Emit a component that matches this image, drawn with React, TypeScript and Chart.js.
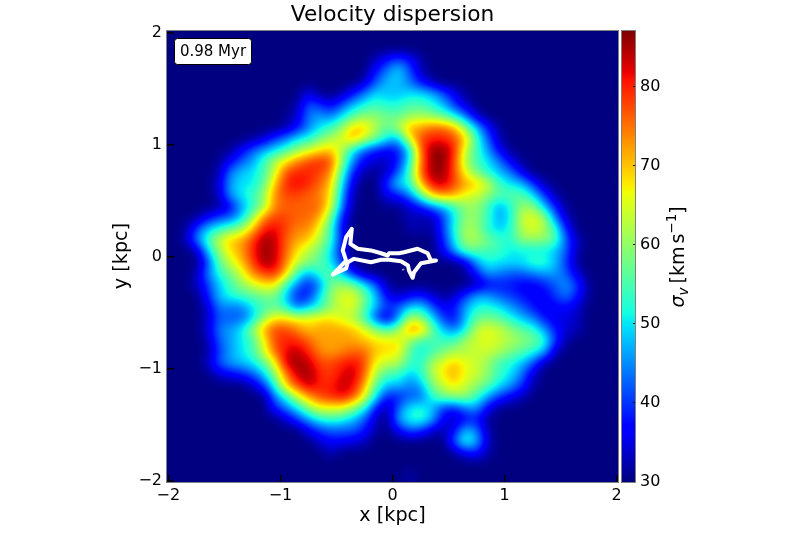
import React, { useEffect, useRef } from "react";
import { Chart, registerables } from "chart.js";

Chart.register(...registerables);

const FONT = "'DejaVu Sans'";
const titleText = "Velocity dispersion";
const xLabel = "x [kpc]";
const yLabel = "y [kpc]";
const timeLabel = "0.98 Myr";
const axisTicks = [-2, -1, 0, 1, 2];
const colorTicks = [30, 40, 50, 60, 70, 80];
const sigmaMin = 30;
const sigmaMax = 87;
const axisLimit = 2.012;
const gridSize = 40; // cells per side, spanning -2..2 kpc

// Velocity dispersion map: first column of each row, then its values. Anything else is at the floor (30).
const rowStart = [0, 0, 18, 18, 17, 12, 11, 10, 10, 7, 5, 4, 4, 4, 4, 4, 2, 1, 1, 2, 2, 2, 2, 2, 3, 3, 3, 3, 3, 3, 4, 7, 8, 9, 10, 12, 13, 14, 0, 21];
const rowValues: number[][] = [
  [],
  [],
  [33, 38, 42, 38, 32],
  [38, 44, 50, 42, 33],
  [34, 42, 48, 48, 44, 38, 33],
  [36, 31, 30, 32, 38, 44, 50, 48, 48, 50, 50, 48, 42, 36, 31],
  [32, 42, 40, 36, 42, 48, 52, 54, 52, 52, 55, 55, 52, 48, 40, 34],
  [31, 34, 44, 46, 44, 50, 56, 60, 60, 58, 57, 60, 62, 60, 57, 52, 44, 34],
  [32, 37, 44, 50, 54, 60, 70, 70, 62, 56, 62, 72, 72, 76, 76, 72, 60, 48, 38, 31],
  [31, 34, 40, 44, 50, 52, 58, 62, 66, 72, 64, 58, 50, 46, 66, 78, 80, 80, 78, 70, 54, 42, 33],
  [31, 36, 42, 46, 50, 54, 60, 64, 68, 70, 62, 50, 42, 38, 36, 38, 48, 76, 86, 87, 80, 64, 54, 46, 36, 31],
  [31, 36, 42, 46, 54, 62, 68, 74, 78, 80, 78, 60, 44, 36, 34, 33, 38, 50, 74, 86, 87, 78, 62, 54, 50, 44, 36, 31],
  [32, 44, 48, 50, 54, 64, 78, 80, 80, 78, 74, 54, 38, 32, 31, 33, 42, 54, 76, 86, 86, 78, 66, 58, 52, 48, 44, 36, 30],
  [34, 46, 50, 50, 56, 70, 80, 82, 80, 76, 70, 50, 34, 30, 30, 40, 50, 52, 70, 82, 84, 78, 72, 70, 64, 54, 50, 48, 40, 32],
  [33, 46, 50, 54, 60, 74, 78, 78, 76, 74, 68, 46, 32, 30, 30, 36, 38, 44, 56, 70, 74, 72, 66, 64, 60, 56, 56, 56, 50, 40, 32],
  [31, 36, 46, 52, 60, 74, 76, 76, 76, 76, 66, 44, 31, 30, 30, 31, 31, 34, 38, 44, 48, 54, 60, 60, 54, 46, 52, 60, 60, 48, 38, 31],
  [31, 36, 40, 42, 48, 60, 74, 78, 78, 76, 76, 72, 58, 38, 30, 30, 30, 30, 30, 33, 32, 32, 40, 50, 60, 60, 54, 46, 50, 64, 66, 62, 44, 33],
  [31, 40, 48, 52, 56, 60, 70, 80, 82, 78, 74, 74, 66, 54, 36, 30, 30, 30, 30, 30, 32, 33, 31, 40, 52, 62, 60, 52, 48, 52, 62, 66, 62, 54, 38],
  [32, 44, 54, 64, 70, 72, 78, 86, 84, 76, 72, 70, 62, 54, 38, 30, 30, 30, 30, 30, 30, 30, 30, 38, 50, 62, 62, 58, 54, 52, 60, 60, 60, 56, 42, 33],
  [32, 48, 60, 68, 72, 80, 86, 84, 76, 68, 62, 58, 50, 36, 30, 30, 30, 30, 30, 30, 30, 30, 36, 46, 56, 56, 54, 54, 50, 50, 50, 50, 48, 42, 32],
  [30, 40, 56, 64, 70, 78, 86, 84, 74, 64, 60, 56, 50, 40, 30, 30, 30, 30, 30, 30, 30, 30, 30, 30, 34, 46, 52, 50, 50, 50, 54, 54, 48, 40, 31],
  [32, 44, 52, 58, 64, 74, 78, 80, 70, 54, 46, 54, 56, 48, 38, 31, 30, 30, 30, 30, 30, 30, 30, 30, 31, 38, 46, 44, 42, 42, 44, 46, 46, 42, 34],
  [33, 40, 48, 54, 60, 64, 68, 68, 54, 44, 38, 44, 58, 60, 58, 50, 42, 32, 30, 30, 30, 30, 30, 30, 30, 32, 36, 38, 38, 36, 36, 38, 42, 46, 40, 31],
  [30, 38, 48, 52, 54, 56, 58, 58, 48, 38, 38, 50, 60, 66, 66, 58, 48, 36, 33, 36, 38, 34, 31, 33, 40, 46, 46, 42, 40, 38, 36, 36, 40, 44, 38, 31],
  [34, 44, 44, 44, 50, 54, 56, 52, 42, 48, 52, 60, 64, 66, 56, 48, 40, 42, 48, 50, 42, 36, 38, 46, 52, 52, 50, 46, 42, 38, 35, 36, 37, 34, 30],
  [33, 42, 42, 42, 48, 60, 68, 68, 66, 66, 68, 68, 64, 62, 54, 40, 33, 44, 62, 60, 50, 40, 36, 48, 56, 58, 56, 52, 48, 44, 38, 35, 35, 33, 30],
  [34, 44, 46, 50, 60, 72, 78, 78, 74, 70, 72, 72, 72, 70, 66, 60, 54, 60, 74, 74, 58, 48, 44, 50, 64, 66, 64, 60, 56, 54, 46, 38, 34, 33, 30],
  [32, 42, 46, 50, 54, 66, 78, 80, 80, 76, 72, 72, 72, 72, 70, 68, 68, 68, 60, 54, 54, 54, 54, 62, 64, 66, 64, 62, 60, 58, 54, 40, 32],
  [31, 40, 46, 50, 54, 64, 76, 82, 84, 80, 74, 72, 74, 76, 76, 70, 68, 68, 56, 50, 54, 58, 62, 62, 64, 64, 62, 58, 56, 52, 48, 33],
  [33, 42, 46, 48, 50, 56, 66, 84, 86, 84, 78, 78, 80, 82, 78, 66, 64, 62, 54, 52, 62, 66, 70, 66, 64, 60, 54, 52, 48, 42, 32],
  [34, 36, 38, 42, 48, 60, 74, 84, 86, 80, 78, 82, 84, 76, 62, 54, 54, 48, 52, 62, 68, 72, 66, 64, 60, 54, 50, 44, 34],
  [33, 40, 52, 70, 78, 84, 80, 80, 84, 82, 72, 56, 48, 48, 44, 46, 58, 64, 68, 64, 60, 56, 50, 46, 40, 32],
  [30, 44, 52, 64, 72, 78, 80, 82, 78, 66, 50, 38, 38, 42, 42, 52, 58, 60, 60, 54, 46, 40, 36, 33],
  [38, 44, 50, 60, 66, 66, 66, 60, 52, 38, 31, 42, 50, 52, 48, 40, 38, 44, 46, 36, 31],
  [34, 40, 46, 52, 54, 52, 48, 42, 33, 30, 46, 52, 54, 48, 36, 33, 36, 38, 31],
  [36, 40, 42, 42, 42, 38, 32, 30, 36, 42, 40, 34, 32, 36, 48, 44, 32],
  [34, 37, 36, 35, 33, 30, 30, 30, 30, 30, 30, 30, 42, 54, 48, 33],
  [33, 30, 30, 30, 30, 30, 30, 30, 30, 30, 30, 31, 36, 38, 32],
  [],
  [32],
];

// Central white track, in kpc
const trackX = [-0.533, -0.414, -0.444, -0.414, -0.363, -0.376, -0.31, -0.192, -0.102, -0.043, -0.031, 0.058, 0.102, 0.224, 0.314, 0.343, 0.388, 0.254, 0.192, 0.18, 0.147, 0.138, 0.076, -0.031, -0.102, -0.192, -0.343, -0.399, -0.414, -0.533];
const trackY = [-0.161, -0.036, 0.054, 0.172, 0.247, 0.113, 0.069, 0.054, 0.029, 0.009, 0.029, 0.029, 0.038, 0.069, 0.029, -0.036, -0.036, -0.06, -0.14, -0.19, -0.125, -0.08, -0.042, -0.029, -0.029, -0.051, -0.021, -0.051, -0.107, -0.161];
const speckX = [0.085, 0.105];
const speckY = [-0.122, -0.112];

const buildGrid = () => {
  const g: number[][] = [];
  for (let i = 0; i < gridSize; i++) {
    const row = new Array(gridSize).fill(sigmaMin);
    rowValues[i].forEach((v, k) => (row[rowStart[i] + k] = v));
    g.push(row);
  }
  return g;
};

const lerpStops = (t: number, stops: number[][]) => {
  for (let i = 1; i < stops.length; i++) {
    if (t <= stops[i][0]) {
      const [a, va] = stops[i - 1];
      const [b, vb] = stops[i];
      return va + ((vb - va) * (t - a)) / (b - a);
    }
  }
  return stops[stops.length - 1][1];
};
const jetR = [[0, 0], [0.35, 0], [0.66, 1], [0.89, 1], [1, 0.5]];
const jetG = [[0, 0], [0.125, 0], [0.375, 1], [0.64, 1], [0.91, 0], [1, 0]];
const jetB = [[0, 0.5], [0.11, 1], [0.34, 1], [0.65, 0], [1, 0]];
const jet = (v: number) => {
  const t = Math.min(1, Math.max(0, (v - sigmaMin) / (sigmaMax - sigmaMin)));
  return [lerpStops(t, jetR) * 255, lerpStops(t, jetG) * 255, lerpStops(t, jetB) * 255];
};

// image resampling between cell centres (cubic B-spline kernel)
const kernel = (d: number) => {
  const x = Math.abs(d);
  if (x < 1) return (3 * x ** 3 - 6 * x ** 2 + 4) / 6;
  if (x < 2) return (2 - x) ** 3 / 6;
  return 0;
};

const sample = (g: number[][], col: number, row: number) => {
  const c0 = Math.floor(col);
  const r0 = Math.floor(row);
  const at = (r: number, c: number) =>
    g[Math.min(gridSize - 1, Math.max(0, r))][Math.min(gridSize - 1, Math.max(0, c))];
  let sum = 0;
  for (let dr = -1; dr <= 2; dr++) {
    const wr = kernel(row - r0 - dr);
    for (let dc = -1; dc <= 2; dc++) {
      sum += wr * kernel(col - c0 - dc) * at(r0 + dr, c0 + dc);
    }
  }
  return sum;
};

const heatmapPlugin = {
  id: "heatmap",
  afterLayout(chart: any) {
    const cb = chart.scales.cb;
    cb.left = 636;
    cb.right = 700;
  },
  beforeDatasetsDraw(chart: any) {
    const { ctx, chartArea: a, scales } = chart;
    const g = buildGrid();
    const w = Math.round(a.right - a.left);
    const h = Math.round(a.bottom - a.top);
    const img = ctx.createImageData(w, h);
    for (let py = 0; py < h; py++) {
      const yv = scales.y.getValueForPixel(a.top + py + 0.5);
      const row = ((2 - yv) / 4) * gridSize - 0.5;
      for (let px = 0; px < w; px++) {
        const xv = scales.x.getValueForPixel(a.left + px + 0.5);
        const col = ((xv + 2) / 4) * gridSize - 0.5;
        const [r, gg, b] = jet(sample(g, col, row));
        const o = (py * w + px) * 4;
        img.data[o] = r;
        img.data[o + 1] = gg;
        img.data[o + 2] = b;
        img.data[o + 3] = 255;
      }
    }
    ctx.putImageData(img, Math.round(a.left), Math.round(a.top));

    // colour bar
    const cb = scales.cb;
    const top = cb.getPixelForValue(sigmaMax);
    const bottom = cb.getPixelForValue(sigmaMin);
    for (let y = Math.floor(top); y < bottom; y++) {
      const [r, gg, b] = jet(cb.getValueForPixel(y + 0.5));
      ctx.fillStyle = `rgb(${r | 0},${gg | 0},${b | 0})`;
      ctx.fillRect(622, y, 13, 1);
    }
  },
  afterDraw(chart: any) {
    const { ctx, chartArea: a, scales } = chart;
    ctx.save();
    ctx.strokeStyle = "#808080";
    ctx.lineWidth = 1;
    ctx.strokeRect(a.left - 0.5, a.top - 0.5, a.right - a.left + 1, a.bottom - a.top + 1);
    ctx.strokeRect(621.5, a.top - 0.5, 14, a.bottom - a.top + 1);

    // time stamp box
    ctx.beginPath();
    ctx.roundRect(174.5, 38.5, 77, 26, 3);
    ctx.fillStyle = "#fff";
    ctx.fill();
    ctx.strokeStyle = "#000";
    ctx.lineWidth = 1;
    ctx.stroke();
    ctx.fillStyle = "#000";
    ctx.font = `15px ${FONT}`;
    ctx.textAlign = "center";
    ctx.textBaseline = "middle";
    ctx.fillText(timeLabel, 213, 52);

    // y axis label
    ctx.save();
    ctx.translate(122.5, 256);
    ctx.rotate(-Math.PI / 2);
    ctx.font = `19.2px ${FONT}`;
    ctx.fillText(yLabel, 0, 0);
    ctx.restore();

    // colour bar label (mathtext)
    ctx.translate(684, (scales.cb.top + scales.cb.bottom) / 2);
    ctx.rotate(-Math.PI / 2);
    ctx.textBaseline = "alphabetic";
    ctx.textAlign = "left";
    let x = -51;
    const put = (t: string, font: string, dy: number, gap = 0) => {
      ctx.font = font;
      ctx.fillText(t, x, dy);
      x += ctx.measureText(t).width + gap;
    };
    put("σ", `italic 19px ${FONT}`, 0);
    put("v", `italic 13.5px ${FONT}`, 4, 4);
    put("[km", `19px ${FONT}`, 0, 3);
    put("s", `19px ${FONT}`, 0);
    put("−1", `13.5px ${FONT}`, -8);
    put("]", `19px ${FONT}`, 0);
    ctx.restore();
  },
};

export default function App() {
  const ref = useRef<HTMLCanvasElement>(null);
  useEffect(() => {
    const tickCb = (v: any) => String(v).replace("-", "−");
    const tickFont = { family: FONT, size: 16 };
    const chart = new Chart(ref.current!, {
      type: "scatter",
      plugins: [heatmapPlugin],
      data: {
        datasets: [
          {
            data: trackX.map((x, i) => ({ x, y: trackY[i] })),
            showLine: true,
            borderColor: "#ffffff",
            borderWidth: 4,
            borderJoinStyle: "round",
            borderCapStyle: "round",
            pointRadius: 0,
            tension: 0,
          },
          {
            data: speckX.map((x, i) => ({ x, y: speckY[i] })),
            showLine: true,
            borderColor: "#a0a0c8",
            borderWidth: 1.5,
            pointRadius: 0,
          },
        ],
      },
      options: {
        responsive: false,
        animation: false,
        events: [],
        layout: { padding: 0 },
        plugins: {
          legend: { display: false },
          tooltip: { enabled: false },
          title: {
            display: true,
            text: titleText,
            fullSize: false,
            color: "#000",
            font: { family: FONT, size: 21.7, weight: "normal", lineHeight: "25px" },
            padding: { top: 3, bottom: 3 },
          },
        },
        scales: {
          x: {
            type: "linear",
            min: -axisLimit,
            max: axisLimit,
            afterFit: (s: any) => { s.height = 51; },
            afterBuildTicks: (s: any) => { s.ticks = axisTicks.map((value) => ({ value })); },
            grid: { drawOnChartArea: false, tickLength: -7, color: "#000", lineWidth: 1.5, z: 1 },
            border: { display: false },
            ticks: { callback: tickCb, color: "#000", font: tickFont, padding: 11, maxRotation: 0 },
            title: { display: true, text: xLabel, color: "#000", font: { family: FONT, size: 19.2, lineHeight: 1 }, padding: { top: 0, bottom: 7 } },
          },
          y: {
            type: "linear",
            min: -axisLimit,
            max: axisLimit,
            afterFit: (s: any) => { s.width = 167; },
            afterBuildTicks: (s: any) => { s.ticks = axisTicks.map((value) => ({ value })); },
            grid: { drawOnChartArea: false, tickLength: -7, color: "#000", lineWidth: 1.5, z: 1 },
            border: { display: false },
            ticks: { callback: tickCb, color: "#000", font: tickFont, padding: 12 },
            title: { display: false },
          },
          cb: {
            type: "linear",
            position: "right",
            min: sigmaMin,
            max: sigmaMax,
            afterFit: (s: any) => { s.width = 182; },
            afterBuildTicks: (s: any) => { s.ticks = colorTicks.map((value) => ({ value })); },
            grid: { drawOnChartArea: false, tickLength: -3, color: "#000", lineWidth: 1, z: 1 },
            border: { display: false },
            ticks: { color: "#000", font: tickFont, padding: 7 },
          },
        },
      },
    } as any);
    return () => chart.destroy();
  }, []);
  return (
    <canvas
      ref={ref}
      width={800}
      height={533}
      style={{ position: "absolute", left: 0, top: 0, display: "block", background: "#fff" }}
    />
  );
}
